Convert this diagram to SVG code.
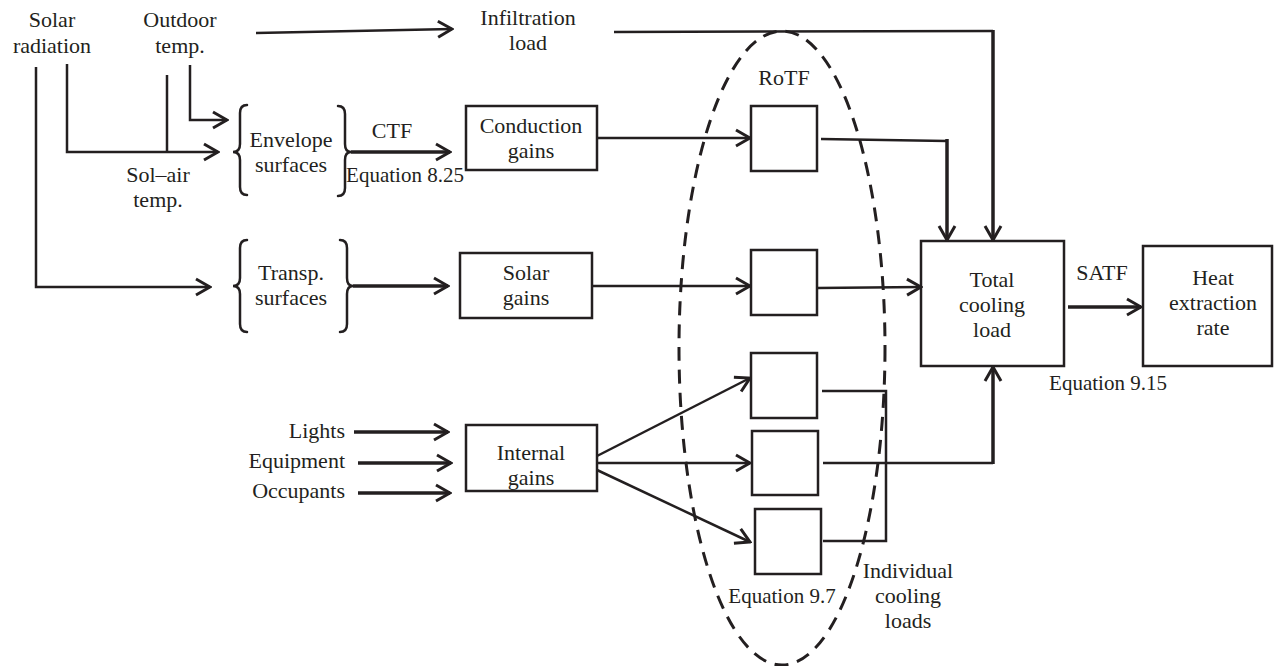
<svg xmlns="http://www.w3.org/2000/svg" width="1284" height="666" viewBox="0 0 1284 666">
  <style>
    text { font-family: 'Liberation Serif', serif; font-size: 22px; fill: #231f20; text-anchor: middle; }
    text.eq { font-size: 21px; }
    text.end { text-anchor: end; }
    .box { fill: #ffffff; stroke: #231f20; stroke-width: 2.5; }
    .ln { fill: none; stroke: #231f20; stroke-width: 2.5; }
    .th { fill: none; stroke: #231f20; stroke-width: 3.5; }
    .br { fill: none; stroke: #231f20; stroke-width: 2.5; stroke-linecap: round; }
    .arr { marker-end: url(#chev); }
  </style>
  <defs>
    <marker id="chev" markerUnits="userSpaceOnUse" viewBox="0 0 18 20" refX="16" refY="10" markerWidth="18" markerHeight="20" orient="auto">
      <path d="M2,2 L16,10 L2,18" fill="none" stroke="#231f20" stroke-width="3" stroke-linejoin="miter"/>
    </marker>
  </defs>

  <!-- RoTF boundary -->
  <g id="rotf-region">
    <ellipse cx="782" cy="348" rx="103" ry="317" fill="none" stroke="#231f20" stroke-width="3" stroke-dasharray="14 9"/>
    <text x="784" y="85">RoTF</text>
  </g>

  <!-- weather inputs -->
  <g id="solar-radiation">
    <text x="52" y="27">Solar</text>
    <text x="52" y="53">radiation</text>
  </g>
  <g id="outdoor-temp">
    <text x="180" y="27">Outdoor</text>
    <text x="180" y="53">temp.</text>
  </g>
  <g id="sol-air-temp">
    <text x="158" y="182">Sol–air</text>
    <text x="158" y="207">temp.</text>
  </g>

  <g id="envelope-surfaces">
    <path class="br" d="M247,105 Q240,105 240,113 L240,144 Q240,152 233,152 Q240,152 240,160 L240,187 Q240,195 247,195"/>
    <path class="br" d="M338,106 Q345,106 345,114 L345,144 Q345,152 351,152 Q345,152 345,160 L345,188 Q345,196 338,196"/>
    <text x="291" y="147">Envelope</text>
    <text x="291" y="172">surfaces</text>
  </g>

  <g id="transp-surfaces">
    <path class="br" d="M247,240 Q240,240 240,248 L240,278 Q240,286 233,286 Q240,286 240,294 L240,324 Q240,332 247,332"/>
    <path class="br" d="M340,240 Q347,240 347,248 L347,278 Q347,286 353,286 Q347,286 347,294 L347,324 Q347,332 340,332"/>
    <text x="291" y="280">Transp.</text>
    <text x="291" y="305">surfaces</text>
  </g>

  <g id="infiltration-load">
    <text x="528" y="25">Infiltration</text>
    <text x="528" y="50">load</text>
  </g>

  <g id="conduction-gains">
    <rect class="box" x="466" y="106" width="131" height="64"/>
    <text x="531" y="133">Conduction</text>
    <text x="531" y="158">gains</text>
  </g>

  <g id="solar-gains">
    <rect class="box" x="460" y="253" width="132" height="65"/>
    <text x="526" y="280">Solar</text>
    <text x="526" y="305">gains</text>
  </g>

  <g id="internal-gains">
    <rect class="box" x="466" y="425" width="131" height="66"/>
    <text x="531" y="460">Internal</text>
    <text x="531" y="485">gains</text>
  </g>

  <g id="lights"><text class="end" x="345" y="438">Lights</text></g>
  <g id="equipment"><text class="end" x="345" y="468">Equipment</text></g>
  <g id="occupants"><text class="end" x="345" y="498">Occupants</text></g>

  <!-- RoTF boxes -->
  <g id="rotf-conduction"><rect class="box" x="751" y="106" width="66" height="65"/></g>
  <g id="rotf-solar"><rect class="box" x="751" y="250" width="66" height="65"/></g>
  <g id="rotf-internal-1"><rect class="box" x="751" y="353" width="66" height="65"/></g>
  <g id="rotf-internal-2"><rect class="box" x="752" y="431" width="66" height="64"/></g>
  <g id="rotf-internal-3"><rect class="box" x="755" y="509" width="66" height="65"/></g>

  <g id="total-cooling-load">
    <rect class="box" x="921" y="241" width="143" height="125"/>
    <text x="992" y="287">Total</text>
    <text x="992" y="312">cooling</text>
    <text x="992" y="337">load</text>
  </g>

  <g id="heat-extraction-rate">
    <rect class="box" x="1143" y="246" width="129" height="120"/>
    <text x="1213" y="285">Heat</text>
    <text x="1213" y="310">extraction</text>
    <text x="1213" y="335">rate</text>
  </g>

  <!-- transfer-function labels -->
  <g id="labels">
    <text x="392" y="138">CTF</text>
    <text class="eq" x="405" y="182">Equation 8.25</text>
    <text x="1102" y="280">SATF</text>
    <text class="eq" x="1108" y="390">Equation 9.15</text>
    <text class="eq" x="782" y="603">Equation 9.7</text>
    <text x="908" y="578">Individual</text>
    <text x="908" y="603">cooling</text>
    <text x="908" y="628">loads</text>
  </g>

  <!-- connectors -->
  <g id="connectors">
    <!-- weather inputs -->
    <polyline class="ln arr" points="36,67 36,287 210,287"/>
    <polyline class="ln arr" points="67,64 67,152 218,152"/>
    <line class="ln" x1="167" y1="75" x2="167" y2="152"/>
    <polyline class="ln arr" points="190,65 190,120 227,120"/>
    <line class="ln arr" x1="256" y1="33" x2="452" y2="29"/>

    <!-- surfaces to gains -->
    <line class="th arr" x1="351" y1="152" x2="450" y2="152"/>
    <line class="th arr" x1="353" y1="286" x2="448" y2="286"/>

    <!-- internal sources -->
    <line class="th arr" x1="354" y1="432" x2="448" y2="432"/>
    <line class="th arr" x1="358" y1="463" x2="451" y2="463"/>
    <line class="th arr" x1="358" y1="493" x2="450" y2="493"/>

    <!-- gains to RoTF boxes -->
    <line class="ln arr" x1="597" y1="138" x2="750" y2="138"/>
    <line class="ln arr" x1="592" y1="286" x2="750" y2="286"/>
    <line class="ln arr" x1="597" y1="456" x2="750" y2="378"/>
    <line class="ln arr" x1="597" y1="463" x2="750" y2="463"/>
    <line class="ln arr" x1="597" y1="470" x2="750" y2="542"/>

    <!-- cooling loads to total -->
    <polyline class="ln" points="821,139 947,141"/>
    <line class="th arr" x1="947" y1="139" x2="947" y2="240"/>
    <polyline class="ln" points="614,32 993,31"/>
    <line class="th arr" x1="993" y1="30" x2="993" y2="240"/>
    <line class="ln arr" x1="817" y1="288" x2="921" y2="287"/>
    <polyline class="ln" points="822,391 886,391 886,541 823,541"/>
    <line class="ln" x1="823" y1="463" x2="993" y2="463"/>
    <line class="th arr" x1="993" y1="464" x2="993" y2="367"/>

    <!-- total to heat extraction -->
    <line class="th arr" x1="1068" y1="307" x2="1141" y2="307"/>
  </g>
</svg>
